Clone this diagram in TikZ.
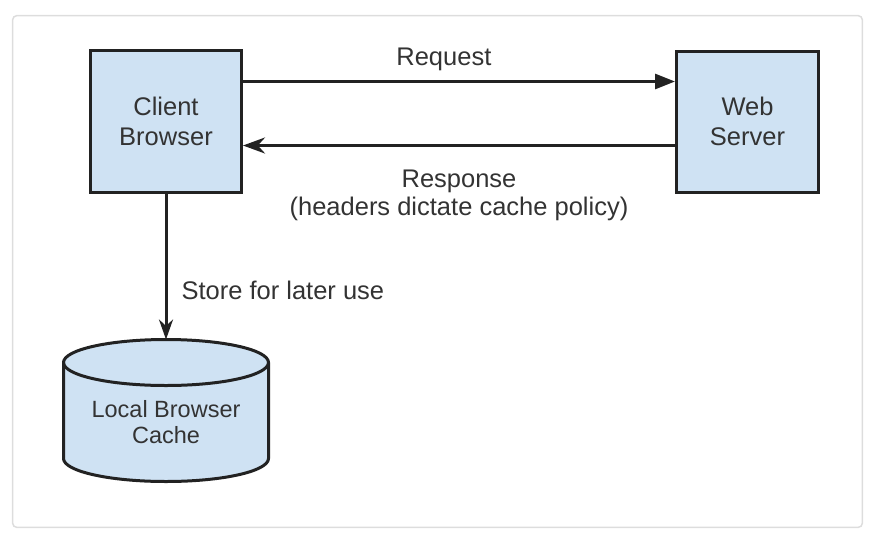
\documentclass[tikz,border=0pt]{standalone}
\usepackage{fontspec}
\setmainfont{Liberation Sans}
\usetikzlibrary{arrows.meta, positioning}
\definecolor{boxblue}{HTML}{CFE2F3}
\definecolor{framegray}{HTML}{DDDDDD}
\definecolor{inkgray}{HTML}{222222}
\tikzstyle{block} = [rectangle, draw=inkgray, line width=3pt, fill=boxblue, text=black!80, align=center, font=\fontsize{25.5}{30}\selectfont]
\tikzstyle{cachebox} = [rectangle, inner sep=0pt, outer sep=0pt, minimum width=205pt, minimum height=142pt]
\tikzstyle{cachedb} = [draw=inkgray, line width=3pt, fill=boxblue, line join=round]
\tikzstyle{msg} = [text=black!80, inner sep=3pt, align=center, font=\fontsize{25.5}{28}\selectfont]
\tikzstyle{request} = [line width=3pt, draw=inkgray, -{Triangle[length=20pt, width=15pt]}]
\tikzstyle{response} = [line width=3pt, draw=inkgray, -{Stealth[length=22pt, width=16pt]}]
\tikzstyle{save} = [line width=3pt, draw=inkgray, -{Stealth[length=20pt, width=14pt]}]

\begin{document}
\begin{tikzpicture}[x=1pt, y=-1pt]
	\useasboundingbox (0,0) rectangle (876,542);

	% Frame
	\draw[framegray, line width=1.5pt, rounded corners=4pt] (12.7,15.7) rectangle (862.3,527.3);

	% Boxes
	\node (client) [block, minimum width=151pt, minimum height=142pt] at (166,121.5) {Client\\Browser};
	\node (server) [block, right=432pt of client, minimum width=142pt, minimum height=141pt] {Web\\Server};

	% Cache cylinder
	\node (cache) [cachebox, below=145.5pt of client] {};
	\draw[cachedb] ([yshift=-23pt]cache.north west) -- ([yshift=23pt]cache.south west)
		arc[start angle=180, end angle=360, x radius=102.5pt, y radius=23pt]
		-- ([yshift=-23pt]cache.north east)
		arc[start angle=0, end angle=180, x radius=102.5pt, y radius=23pt] -- cycle;
	\draw[cachedb, fill=none] ([yshift=-23pt]cache.north west)
		arc[start angle=180, end angle=360, x radius=102.5pt, y radius=23pt];
	\node (cache_text) [msg, font=\fontsize{23.5}{26.5}\selectfont] at ([yshift=-11.5pt]cache.center) {Local Browser\\Cache};

	% Arrows
	\draw[request] ([yshift=40pt]client.east) -- ([yshift=40pt]server.west)
		node (req_text) [msg, above=6pt, pos=0.465] {Request};
	\draw[response] ([yshift=-24pt]server.west) -- ([yshift=-24pt]client.east)
		node (resp_text) [msg, below=20pt, midway] {Response\\(headers dictate cache policy)};
	\draw[save] (client) -- (cache)
		node (save_text) [msg, right=11pt, pos=0.66] {Store for later use};

\end{tikzpicture}
\end{document}
